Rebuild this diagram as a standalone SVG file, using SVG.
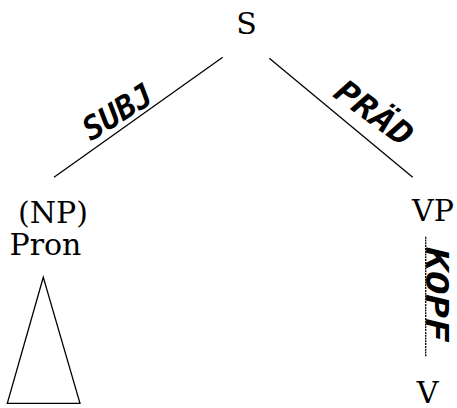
<svg xmlns="http://www.w3.org/2000/svg" width="457" height="408" viewBox="0 0 457 408">
<style>
.node{font-family:"DejaVu Serif","Liberation Serif",serif;font-size:30px;fill:#000;text-anchor:middle}
.edge{stroke:#000;stroke-width:1.3;fill:none}
.dot{stroke-dasharray:2 0.8}
.lbl{font-family:"DejaVu Sans Mono","Liberation Mono",monospace;font-weight:bold;font-style:italic;font-size:32px;fill:#000;text-anchor:middle}
</style>
<rect width="457" height="408" fill="#fff"/>
<g id="connectors">
<line class="edge" x1="222.7" y1="57.3" x2="54" y2="177.3"/>
<line class="edge" x1="269.3" y1="58.3" x2="412.7" y2="177.3"/>
<line class="edge dot" x1="425.7" y1="236.7" x2="425.7" y2="356.7"/>
<text class="lbl" transform="translate(117.5,112) rotate(-32)" y="11" textLength="76" lengthAdjust="spacingAndGlyphs">SUBJ</text>
<text class="lbl" transform="translate(374,113) rotate(36)" y="11" textLength="88" lengthAdjust="spacingAndGlyphs">PRÄD</text>
<text class="lbl" transform="translate(437,294.5) rotate(90)" y="11" textLength="94" lengthAdjust="spacingAndGlyphs">KOPF</text>
</g>
<g id="node-S"><text class="node" x="246.5" y="33.5">S</text></g>
<g id="node-NP"><text class="node" x="53" y="222.5">(NP)</text><text class="node" x="45.5" y="255">Pron</text></g>
<g id="node-triangle"><polygon class="edge" points="43.3,277.3 7.3,403.3 80,403.3"/></g>
<g id="node-VP"><text class="node" x="433" y="220.5">VP</text></g>
<g id="node-V"><text class="node" x="427.5" y="402.5">V</text></g>
</svg>
